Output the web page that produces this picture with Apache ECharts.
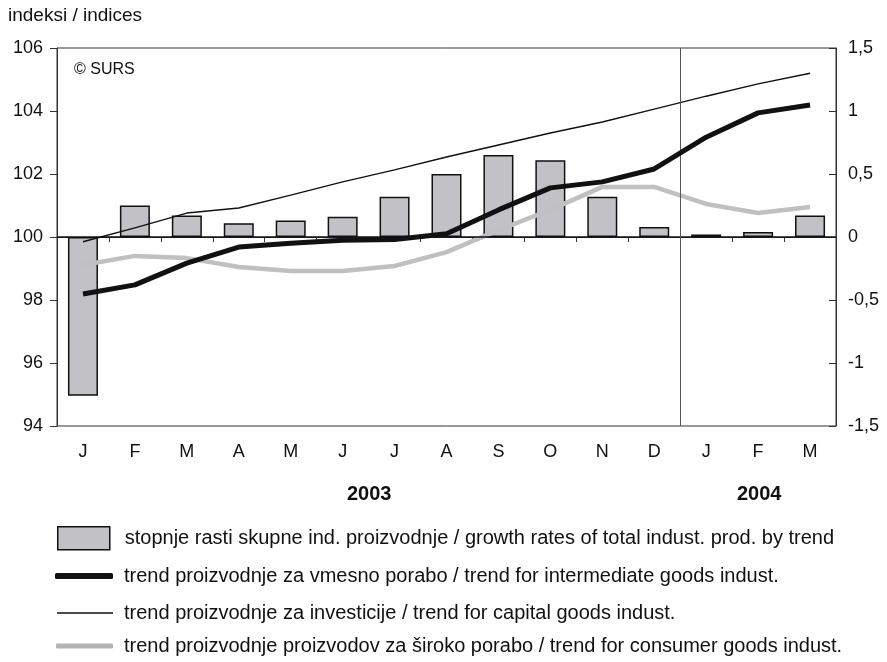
<!DOCTYPE html>
<html><head><meta charset="utf-8">
<script src="https://cdn.jsdelivr.net/npm/echarts@6/dist/echarts.min.js"></script>
<style>html,body{margin:0;padding:0;background:#fff}#c{width:887px;height:662px}</style>
</head><body><div id="c"></div>
<script>
const months = ['J','F','M','A','M','J','J','A','S','O','N','D','J','F','M'];
const growthRates = [-1.26,0.25,0.17,0.11,0.13,0.16,0.32,0.50,0.65,0.61,0.32,0.08,0.02,0.04,0.17];
const intermediate = [98.19,98.48,99.17,99.68,99.80,99.90,99.92,100.10,100.86,101.56,101.75,102.16,103.17,103.94,104.19];
const capital = [99.85,100.29,100.76,100.92,101.33,101.75,102.13,102.54,102.92,103.30,103.65,104.06,104.47,104.86,105.20];
const consumer = [99.11,99.40,99.33,99.05,98.92,98.92,99.08,99.52,100.22,100.86,101.59,101.59,101.05,100.76,100.95];
const leftTicks = {min:94, max:106, interval:2};
const rightTicks = {min:-1.5, max:1.5, interval:0.5};
const yearSplit = 12;
const years = ['2003','2004'];
const names = [
 'stopnje rasti skupne ind. proizvodnje / growth rates of total indust. prod. by trend',
 'trend proizvodnje za vmesno porabo / trend for intermediate goods indust.',
 'trend proizvodnje za investicije / trend for capital goods indust.',
 'trend proizvodnje proizvodov za široko porabo / trend for consumer goods indust.'
];
const F = '"Liberation Sans", Arial, sans-serif';
const chart = echarts.init(document.getElementById('c'), null, {renderer:'canvas'});
const legTxt = (pad) => ({fontFamily:F, fontSize:20, color:'#111', padding:[0,0,0,pad]});
const legBase = {padding:0, selectedMode:false, orient:'horizontal'};
chart.setOption({
  animation:false,
  textStyle:{fontFamily:F},
  grid:{left:57, right:51, top:48, bottom:236, show:true, borderColor:'#333', borderWidth:1, backgroundColor:'transparent'},
  legend:[
    Object.assign({data:[{name:names[0], icon:'rect'}], left:57, top:526, itemWidth:52, itemHeight:23,
      itemStyle:{borderColor:'#111', borderWidth:1.5}, textStyle:legTxt(10)}, legBase),
    Object.assign({data:[{name:names[1], icon:'roundRect'}], left:55, top:566, itemWidth:58, itemHeight:6,
      itemStyle:{color:'#111', borderWidth:0}, textStyle:legTxt(6)}, legBase),
    Object.assign({data:[{name:names[2], icon:'rect'}], left:57, top:603, itemWidth:56, itemHeight:1.5,
      itemStyle:{color:'#111', borderWidth:0}, textStyle:legTxt(6)}, legBase),
    Object.assign({data:[{name:names[3], icon:'roundRect'}], left:56, top:636, itemWidth:57, itemHeight:5,
      itemStyle:{color:'#b4b4b4', borderWidth:0}, textStyle:legTxt(6)}, legBase)
  ],
  xAxis:[
    {type:'category', data:months, boundaryGap:true,
     axisLine:{lineStyle:{color:'#333', width:1}},
     axisTick:{show:true, length:5, alignWithLabel:false, lineStyle:{color:'#333'}},
     axisLabel:{fontSize:18, color:'#111', margin:17, fontFamily:F}},
    {type:'value', min:0, max:months.length, show:false}
  ],
  yAxis:[
    {type:'value', min:leftTicks.min, max:leftTicks.max, interval:leftTicks.interval, position:'left',
     axisLine:{show:true, lineStyle:{color:'#333'}},
     axisTick:{show:true, length:7, lineStyle:{color:'#333'}},
     splitLine:{show:false},
     axisLabel:{fontSize:18, color:'#111', margin:14, fontFamily:F}},
    {type:'value', min:rightTicks.min, max:rightTicks.max, interval:rightTicks.interval, position:'right',
     axisLine:{show:true, lineStyle:{color:'#333'}},
     axisTick:{show:true, inside:true, length:7, lineStyle:{color:'#333'}},
     splitLine:{show:false},
     axisLabel:{fontSize:18, color:'#111', margin:12, fontFamily:F,
       formatter:v=>String(Math.round(v*10)/10).replace('.',',')}}
  ],
  series:[
    {name:names[0], type:'bar', yAxisIndex:1, data:growthRates, barWidth:30,
     itemStyle:{color:'#c2c2c6', borderColor:'#111', borderWidth:1.5},
     markLine:{silent:true, symbol:'none', label:{show:false}, lineStyle:{color:'#111', width:1.5, type:'solid'}, data:[{yAxis:0}]},
     z:1},
    {name:'sep', type:'line', xAxisIndex:1, yAxisIndex:0, data:[],
     markLine:{silent:true, symbol:'none', label:{show:false}, lineStyle:{color:'#555', width:1, type:'solid'}, data:[{xAxis:yearSplit}]}},
    {name:names[3], type:'line', yAxisIndex:0, data:consumer, symbol:'none', lineStyle:{color:'#c0c0c0', width:4.5}, itemStyle:{color:'#c0c0c0'}, z:3},
    {name:names[2], type:'line', yAxisIndex:0, data:capital, symbol:'none', lineStyle:{color:'#111', width:1.4}, itemStyle:{color:'#111'}, z:4},
    {name:names[1], type:'line', yAxisIndex:0, data:intermediate, symbol:'none', lineStyle:{color:'#111', width:5}, itemStyle:{color:'#111'}, z:5}
  ],
  graphic:[
    {type:'text', left:8, top:6, style:{text:'indeksi / indices', font:'19px '+F, fill:'#111'}},
    {type:'text', left:74, top:62, style:{text:'© SURS', font:'16px '+F, fill:'#111'}},
    {type:'text', left:347, top:484, style:{text:years[0], font:'bold 20px '+F, fill:'#111'}},
    {type:'text', left:737, top:484, style:{text:years[1], font:'bold 20px '+F, fill:'#111'}}
  ]
});
</script></body></html>
